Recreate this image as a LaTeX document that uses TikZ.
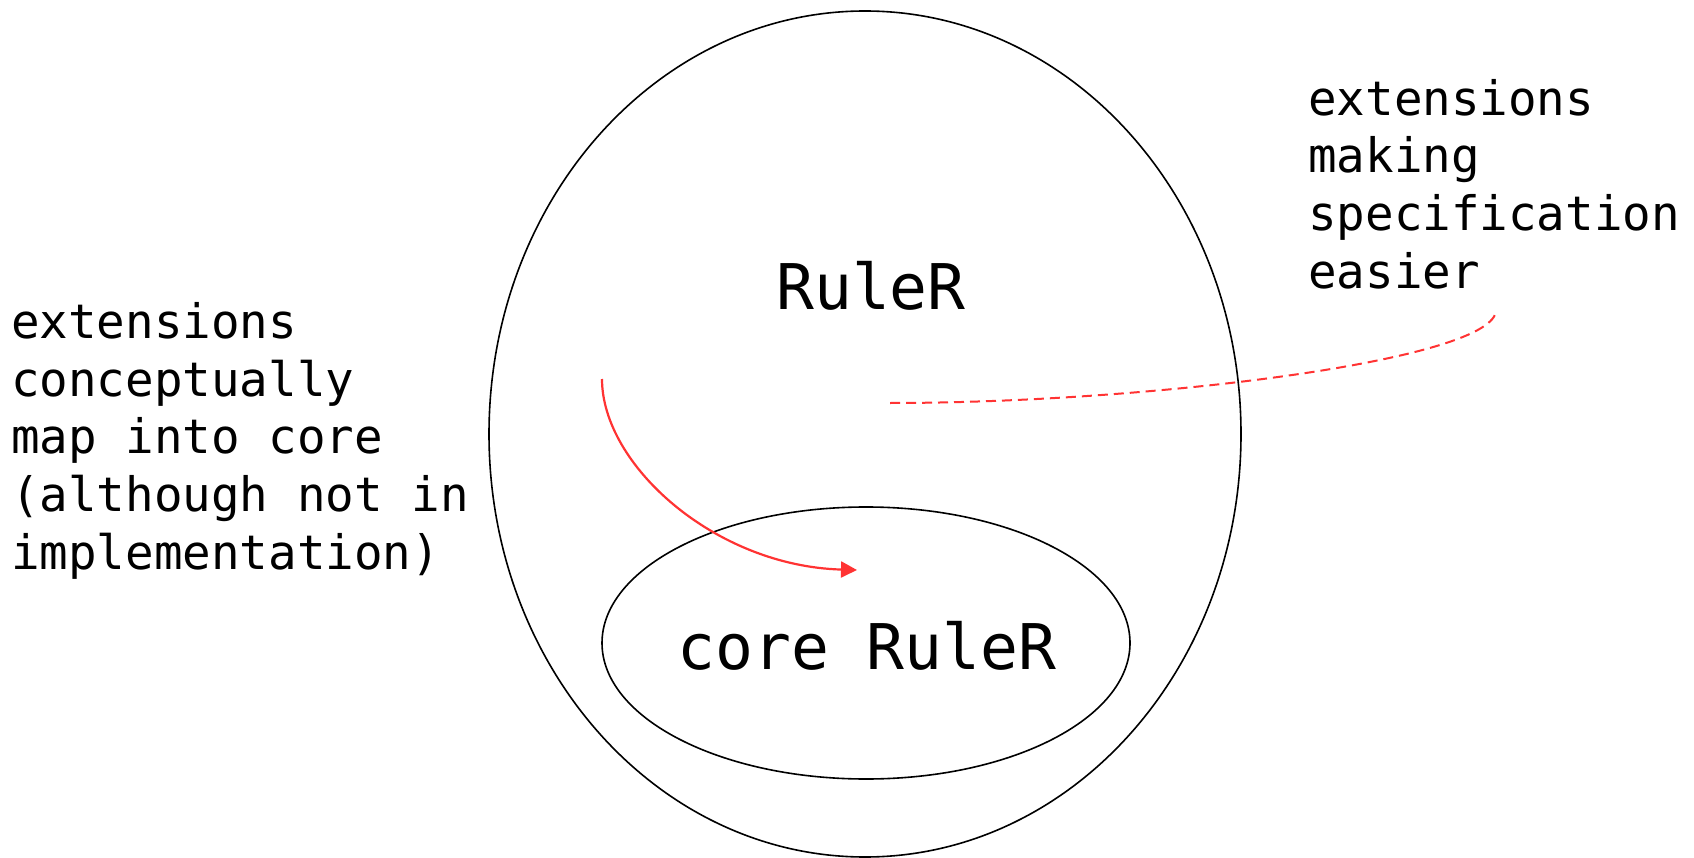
\documentclass[tikz,border=0pt]{standalone}
\usepackage{fontspec}
\newfontfamily\monof{DejaVu Sans Mono}
\usetikzlibrary{arrows.meta,shapes.geometric}
\definecolor{redline}{RGB}{255,51,51}
\tikzset{
  outline/.style={draw=black, line width=1.6pt},
  note/.style={font=\monof\fontsize{47.5}{57.8}\selectfont, align=left, inner sep=0pt, anchor=base west},
  title/.style={font=\monof\fontsize{63}{70}\selectfont, inner sep=0pt, anchor=base},
  maparrow/.style={draw=redline, line width=2.2pt, -{Triangle[length=16pt,width=16pt]}},
  dashlink/.style={draw=redline, line width=2pt, dash pattern=on 10pt off 6pt},
}
\begin{document}
\begin{tikzpicture}[x=1pt,y=-1pt]
\useasboundingbox (0,0) rectangle (1694,858);
\node[outline, ellipse, minimum width=752pt, minimum height=846pt, inner sep=0pt] (big) at (865,434) {};
\node[outline, ellipse, minimum width=528pt, minimum height=272pt, inner sep=0pt] (small) at (866,643) {};
\node[title] (ruler) at (871,310) {RuleR};
\node[title] (core) at (867,669) {core RuleR};
\node[note] (left) at (11,569.4) {extensions\\conceptually\\map into core\\(although not in\\implementation)};
\node[note] (right) at (1308,288.5) {extensions\\making\\specification\\easier};
\coordinate (a0) at (602,379);
\coordinate (a1) at (857,570);
\coordinate (d0) at (890,403);
\coordinate (d1) at (1496,310);
\draw[maparrow] (a0) .. controls (602,465) and (715,566) .. (a1);
\draw[dashlink] (d0) .. controls (1150,403) and (1496,360) .. (d1);
\end{tikzpicture}
\end{document}
